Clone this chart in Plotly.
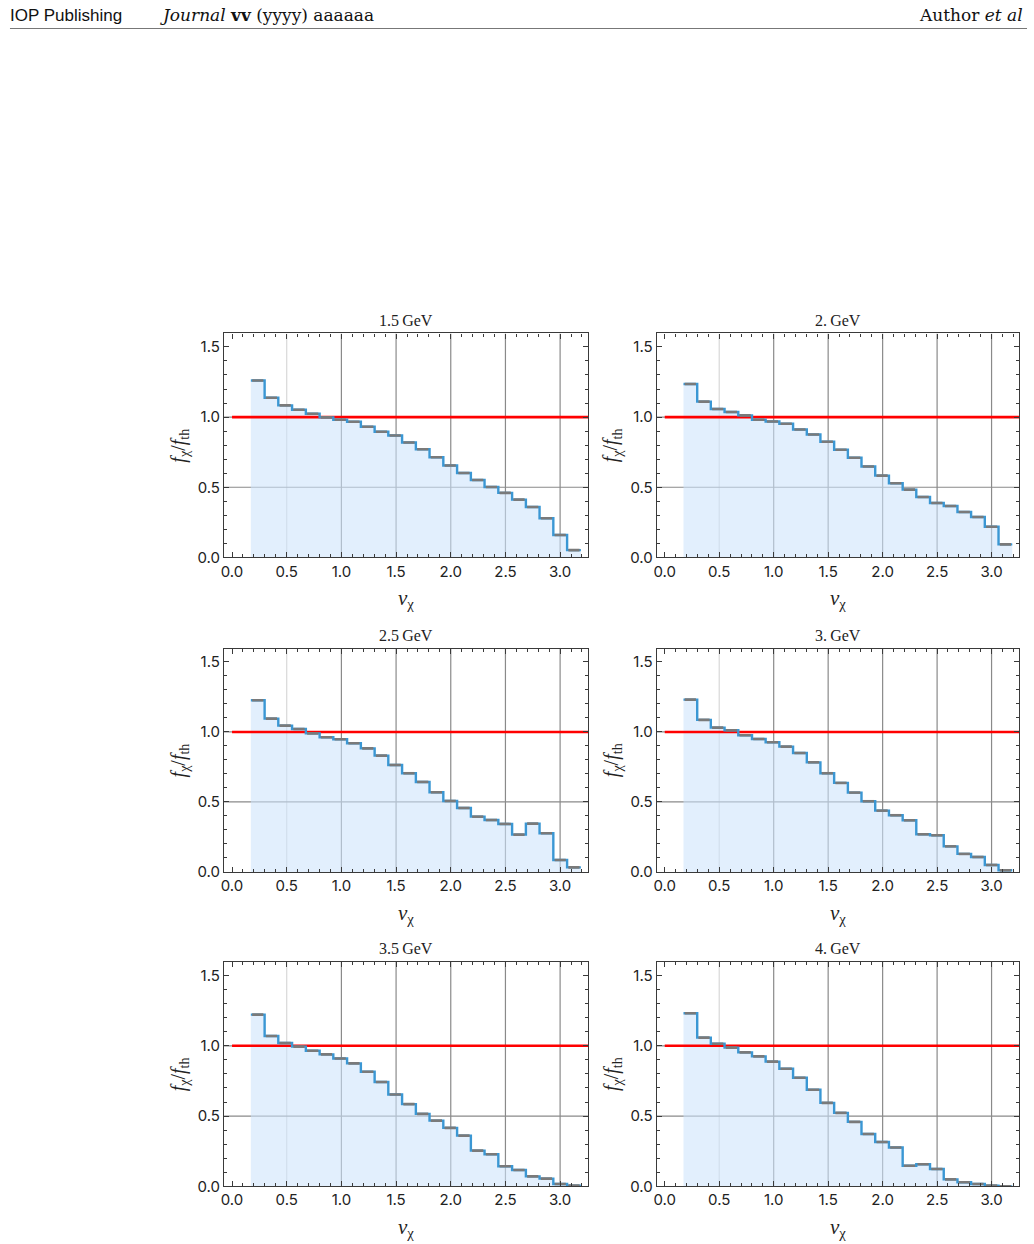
import plotly.graph_objects as go

W, H = 1034, 1244
S = 1.0076  # vertical calibration

titles = ["1.5\u2009GeV", "2.\u2009GeV", "2.5\u2009GeV", "3.\u2009GeV", "3.5\u2009GeV", "4.\u2009GeV"]

bin_edges = [0.172, 0.298, 0.423, 0.549, 0.675, 0.801, 0.926, 1.052, 1.178, 1.304,
             1.429, 1.555, 1.681, 1.806, 1.932, 2.058, 2.184, 2.309, 2.435, 2.561,
             2.687, 2.812, 2.938, 3.064, 3.190]

ratio_1p5 = [1.26, 1.138, 1.083, 1.052, 1.024, 0.998, 0.981, 0.967, 0.931, 0.895, 0.869, 0.819,
             0.771, 0.714, 0.655, 0.602, 0.552, 0.502, 0.46, 0.412, 0.36, 0.279, 0.16, 0.052]
ratio_2p0 = [1.236, 1.11, 1.057, 1.036, 1.012, 0.981, 0.969, 0.952, 0.912, 0.876, 0.824, 0.767,
             0.71, 0.648, 0.583, 0.529, 0.483, 0.431, 0.388, 0.367, 0.324, 0.288, 0.219, 0.093]
ratio_2p5 = [1.226, 1.095, 1.045, 1.021, 0.99, 0.962, 0.948, 0.919, 0.883, 0.831, 0.764, 0.705,
             0.643, 0.569, 0.507, 0.457, 0.395, 0.371, 0.343, 0.267, 0.345, 0.276, 0.086, 0.033]
ratio_3p0 = [1.231, 1.086, 1.031, 1.012, 0.976, 0.95, 0.926, 0.895, 0.85, 0.783, 0.705, 0.636,
             0.567, 0.505, 0.438, 0.405, 0.369, 0.269, 0.262, 0.183, 0.129, 0.107, 0.05, 0.012]
ratio_3p5 = [1.222, 1.07, 1.02, 0.994, 0.965, 0.939, 0.91, 0.875, 0.815, 0.742, 0.654, 0.585,
             0.516, 0.468, 0.416, 0.361, 0.254, 0.228, 0.143, 0.116, 0.071, 0.055, 0.017, 0.005]
ratio_4p0 = [1.231, 1.058, 1.015, 0.987, 0.953, 0.925, 0.887, 0.837, 0.773, 0.687, 0.594, 0.523,
             0.459, 0.373, 0.316, 0.276, 0.147, 0.157, 0.124, 0.05, 0.029, 0.017, 0.005, 0.0]

series = [ratio_1p5, ratio_2p0, ratio_2p5, ratio_3p0, ratio_3p5, ratio_4p0]

reference_level = 1.0
x_ticks = [0.0, 0.5, 1.0, 1.5, 2.0, 2.5, 3.0]
y_ticks = [0.0, 0.5, 1.0, 1.5]
x_range = [-0.073, 3.255]
y_range = [0.0, 1.596]

# panel frames in pixels
col_px = [(221.7, 586.7), (655.7, 1019.3)]
row_px = [(333.3, 557.3), (648.3, 871.7), (961.7, 1186.0)]

SERIF = "Liberation Serif"
SANS = "Inter"


def py(p):
    return 1 - (p * S) / H


fig = go.Figure()
shapes = []
annotations = []

for i, vals in enumerate(series):
    r, c = divmod(i, 2)
    n = "" if i == 0 else str(i + 1)
    xa, ya = "x" + n, "y" + n
    x0p, x1p = col_px[c]
    y0p, y1p = row_px[r]
    common = dict(
        showline=True, linecolor="#3a3a3a", linewidth=1.2, mirror="allticks",
        ticks="inside", ticklen=5, tickwidth=1, tickcolor="#3a3a3a",
        showgrid=False, zeroline=False, fixedrange=True,
        tickfont=dict(family=SANS, size=15, color="#222"),
        minor=dict(ticks="inside", ticklen=3, tickwidth=1, tickcolor="#3a3a3a", dtick=0.1, showgrid=False),
    )
    fig.update_layout(**{
        ("xaxis" + n): dict(domain=[x0p / W, x1p / W], range=x_range, anchor=ya,
                            tickvals=x_ticks, ticktext=[f"{v:.1f}" for v in x_ticks], **common),
        ("yaxis" + n): dict(domain=[py(y1p), py(y0p)], range=y_range, anchor=xa,
                            tickvals=y_ticks, ticktext=[f"{v:.1f}" for v in y_ticks], **common),
    })
    # grid lines
    for gx in x_ticks[1:]:
        shapes.append(dict(type="line", xref=xa, yref=ya, x0=gx, x1=gx, y0=y_range[0], y1=y_range[1],
                           line=dict(color="#d8d8d8" if gx == 0.5 else "#8a8a8a", width=1.2), layer="below"))
    for gy in [0.5, 1.0]:
        shapes.append(dict(type="line", xref=xa, yref=ya, x0=x_range[0], x1=x_range[1], y0=gy, y1=gy,
                           line=dict(color="#8a8a8a", width=1.2), layer="below"))
    xs = bin_edges
    ys = vals + [vals[-1]]
    # fill
    fig.add_trace(go.Scatter(x=xs, y=ys, xaxis=xa, yaxis=ya, mode="lines", line=dict(width=0, shape="hv"),
                             fill="tozeroy", fillcolor="rgba(205,228,252,0.58)", hoverinfo="skip", showlegend=False))
    # reference line
    fig.add_trace(go.Scatter(x=[0.0, x_range[1] + 0.1], y=[reference_level, reference_level], xaxis=xa, yaxis=ya,
                             mode="lines", line=dict(color="#ff0000", width=2.6), showlegend=False))
    # step line
    fig.add_trace(go.Scatter(x=xs, y=ys, xaxis=xa, yaxis=ya, mode="lines",
                             line=dict(color="#3a97d4", width=2.4, shape="hv"), showlegend=False))
    # centre markers
    centers = [(bin_edges[k] + bin_edges[k + 1]) / 2 for k in range(len(vals))]
    fig.add_trace(go.Scatter(x=centers, y=vals, xaxis=xa, yaxis=ya, mode="markers",
                             marker=dict(symbol="line-ew", size=8, color="#7a7a7a",
                                         line=dict(color="#7a7a7a", width=2.6)),
                             showlegend=False))
    xm = (x0p + x1p) / 2
    ym = (y0p + y1p) / 2
    annotations.append(dict(text=titles[i], x=xm / W, y=py(y0p - 13), xref="paper", yref="paper",
                            showarrow=False, font=dict(family=SERIF, size=16, color="#222"),
                            xanchor="center", yanchor="middle"))
    annotations.append(dict(text="<i>v</i><sub>χ</sub>", x=xm / W, y=py(y1p + 42), xref="paper", yref="paper",
                            showarrow=False, font=dict(family=SERIF, size=21, color="#222"),
                            xanchor="center", yanchor="middle"))
    annotations.append(dict(text="<i>f</i><sub>χ</sub>/<i>f</i><sub>th</sub>", x=(x0p - 45) / W, y=py(ym),
                            xref="paper", yref="paper", textangle=-90,
                            showarrow=False, font=dict(family=SERIF, size=20, color="#222"),
                            xanchor="center", yanchor="middle"))

# header
annotations.append(dict(text="IOP Publishing", x=5 / W, y=py(15), xref="paper", yref="paper",
                        xanchor="left", yanchor="middle", showarrow=False,
                        font=dict(family="Liberation Sans Narrow, Liberation Sans", size=17, color="#111")))
annotations.append(dict(text="<i>Journal</i> <b>vv</b> (yyyy) aaaaaa", x=155 / W, y=py(15),
                        xref="paper", yref="paper", xanchor="left", yanchor="middle", showarrow=False,
                        font=dict(family="DejaVu Serif", size=17, color="#111")))
annotations.append(dict(text="Author <i>et al</i>", x=1025 / W, y=py(15),
                        xref="paper", yref="paper", xanchor="right", yanchor="middle", showarrow=False,
                        font=dict(family="DejaVu Serif", size=17, color="#111")))
shapes.append(dict(type="line", xref="paper", yref="paper", x0=7 / W, x1=1027 / W, y0=py(28.5), y1=py(28.5),
                   line=dict(color="#777", width=1)))

fig.update_layout(width=W, height=H, margin=dict(l=0, r=0, t=0, b=0),
                  paper_bgcolor="white", plot_bgcolor="rgba(0,0,0,0)",
                  shapes=shapes, annotations=annotations, showlegend=False)

fig.write_html("out.html")
